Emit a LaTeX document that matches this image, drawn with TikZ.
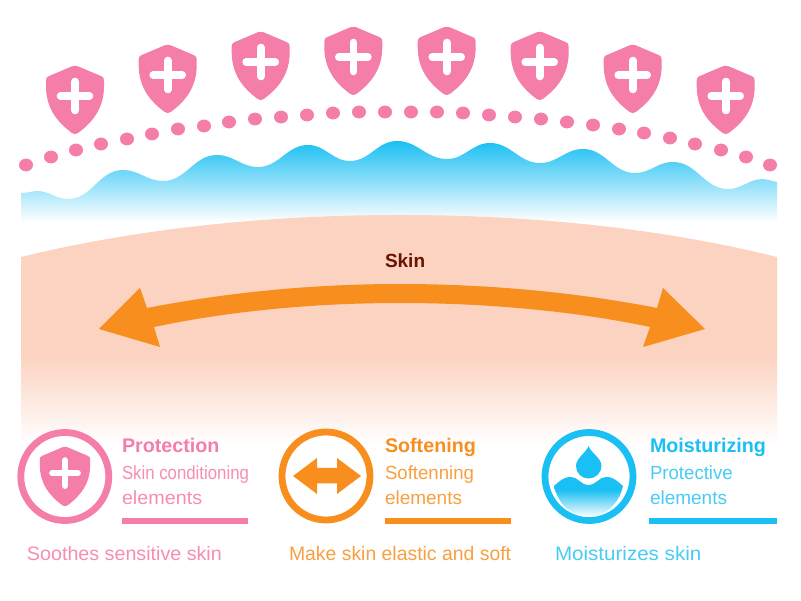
\documentclass[tikz,border=0pt]{standalone}
\usepackage{fontspec}
\setmainfont{Liberation Sans}
\definecolor{pinkc}{HTML}{F47DAA}
\definecolor{pinktext}{HTML}{F78DB4}
\definecolor{orangec}{HTML}{F78E1E}
\definecolor{bluec}{HTML}{1ABFF3}
\definecolor{skinc}{HTML}{FCD2C0}
\definecolor{skintext}{HTML}{6B1200}
\pgfdeclareverticalshading{bluefade}{100bp}{color(0bp)=(white); color(32bp)=(white); color(75bp)=(bluec); color(100bp)=(bluec)}
\pgfdeclareverticalshading{skinfade}{100bp}{color(0bp)=(white); color(25bp)=(white); color(75bp)=(skinc); color(100bp)=(skinc)}
\pgfdeclareverticalshading{waterfade}{100bp}{color(0bp)=(white); color(25bp)=(white); color(59bp)=(bluec); color(100bp)=(bluec)}
\tikzset{
  lab/.style={anchor=base west,inner sep=0pt,outer sep=0pt},
  headtxt/.style={lab,font=\fontsize{19.7}{19.7}\selectfont\bfseries},
  subtxt/.style={lab,font=\fontsize{19}{19}\selectfont},
  notetxt/.style={lab,font=\fontsize{19.5}{19.5}\selectfont},
  ringc/.style={circle,draw=#1,line width=6.8pt,fill=white,minimum size=88pt,inner sep=0pt},
}
\newcommand{\myshield}[3]{%
  \begin{scope}[shift={(#1,#2)},scale=#3]
    \fill[pinkc] (-3,.3) -- (-26.5,10.3) .. controls (-28.5,11.2) and (-29,12.5) .. (-29,15)
      -- (-29,20) .. controls (-29,42) and (-18,56) .. (-3,67)
      .. controls (-1,68.4) and (1,68.4) .. (3,67)
      .. controls (18,56) and (29,42) .. (29,20)
      -- (29,15) .. controls (29,12.5) and (28.5,11.2) .. (26.5,10.3)
      -- (3,.3) .. controls (1,-.3) and (-1,-.3) .. (-3,.3) -- cycle;
    \draw[white,line width={7.6pt*#3},line cap=round] (-14.5,30) -- (14.5,30) (0,15.5) -- (0,44.5);
  \end{scope}}
\begin{document}
\begin{tikzpicture}[x=1pt,y=-1pt]
\useasboundingbox (0,0) rectangle (801,601);
\fill[white] (0,0) rectangle (801,601);
% moisture wave
\shade[shading=bluefade]
  (21,193) to[out=-8,in=180,looseness=.6] (37,191) to[out=0,in=180] (68,199) to[out=0,in=180] (123,170)
  to[out=0,in=180] (163,181) to[out=0,in=180] (217,155) to[out=0,in=180] (258,167)
  to[out=0,in=180] (308,145) to[out=0,in=180] (350,161) to[out=0,in=180] (397,141)
  to[out=0,in=180] (447,159) to[out=0,in=180] (490,143) to[out=0,in=180] (540,163)
  to[out=0,in=180] (583,149) to[out=0,in=180] (635,173) to[out=0,in=180] (673,162)
  to[out=0,in=180] (728,189) to[out=0,in=180] (763,179) to[out=0,in=172,looseness=.6] (777,182)
  -- (777,235) -- (21,235) -- cycle;
% skin
\fill[skinc] (21,257) .. controls (140,228) and (270,215) .. (400,215)
  .. controls (530,215) and (660,228) .. (777,257) -- (777,356) -- (21,356) -- cycle;
\shade[shading=skinfade] (21,355) rectangle (777,444);
% double arrow
\fill[orangec] (99,329) -- (140,288) -- (147,308)
  .. controls (235,291) and (320,284) .. (400,284) .. controls (480,284) and (570,291) .. (657,308)
  -- (663,288) -- (705,329) -- (643,347) -- (650,327)
  .. controls (570,310) and (480,303) .. (400,303) .. controls (320,303) and (235,310) .. (154,327)
  -- (160,347) -- cycle;
\node[lab,font=\fontsize{19}{19}\selectfont\bfseries,text=skintext] (skin) at (385,268) {Skin};
% dots
\foreach \dx/\dy in {26/165,51/157,76/150,101/144,127/139,152/134,178/129,204/126,229/122,255/119,281/117,307/115,333/113,359/112,385/112,
  411/112,437/112,463/113,489/115,515/117,541/119,567/122,593/125,619/129,644/133,670/138,695/144,721/150,746/157,770/165}
  \fill[pinkc] (\dx,\dy) ellipse (7pt and 6.4pt);
% shields
\myshield{75}{66}{1}
\myshield{167.7}{45}{1}
\myshield{260.7}{32}{1}
\myshield{353.3}{27}{1}
\myshield{446.7}{27}{1}
\myshield{539.7}{32}{1}
\myshield{632.7}{45}{1}
\myshield{725.7}{66}{1}
% protection
\node[ringc=pinkc] (ringp) at (64.8,476.5) {};
\myshield{65}{447}{.87}
\node[headtxt,text=pinkc] (ph) at (122,453) {Protection};
\node[subtxt,text=pinktext] (p1) at (122,479) {\scalebox{.884}[1]{Skin conditioning}};
\node[subtxt,text=pinktext] (p2) at (122,504) {\scalebox{1.04}[1]{elements}};
\fill[pinkc] (122,518) rectangle (248,524);
\node[notetxt,text=pinktext] (pn) at (27,560) {\scalebox{1.01}[1]{Soothes sensitive skin}};
% softening
\node[ringc=orangec] (rings) at (326,476) {};
\fill[orangec] (293,476) -- (317,458) -- (317,468) -- (337,468) -- (337,458) -- (361,476)
  -- (337,494) -- (337,483.5) -- (317,483.5) -- (317,494) -- cycle;
\node[headtxt,text=orangec] (sh) at (385,453) {Softening};
\node[subtxt,text=orangec!85!white] (s1) at (385,479) {\scalebox{.98}[1]{Softenning}};
\node[subtxt,text=orangec!85!white] (s2) at (385,504) {elements};
\fill[orangec] (385,518) rectangle (511,524);
\node[notetxt,text=orangec!85!white] (sn) at (289,560) {\scalebox{.995}[1]{Make skin elastic and soft}};
% moisturizing
\node[ringc=bluec] (ringm) at (589,476.5) {};
\fill[bluec] (588.5,446) .. controls (586,453) and (576,458) .. (576,466)
  .. controls (576,473) and (581.5,478.5) .. (588.5,478.5)
  .. controls (595.5,478.5) and (601.5,473) .. (601.5,466)
  .. controls (601.5,458) and (591,453) .. (588.5,446) -- cycle;
\shade[shading=waterfade]
  (554,486) .. controls (560,481) and (563,477) .. (571,477)
  .. controls (578,477) and (581,485) .. (588.5,485)
  .. controls (596,485) and (599,477) .. (606,477)
  .. controls (614,477) and (617,481) .. (623,486)
  .. controls (619,504) and (605,517) .. (588.5,517)
  .. controls (572,517) and (558,504) .. (554,486) -- cycle;
\node[headtxt,text=bluec] (mh) at (650,453) {Moisturizing};
\node[subtxt,text=bluec!80!white] (m1) at (650,479) {\scalebox{.98}[1]{Protective}};
\node[subtxt,text=bluec!80!white] (m2) at (650,504) {elements};
\fill[bluec] (649,518) rectangle (777,524);
\node[notetxt,text=bluec!80!white] (mn) at (555,560) {\scalebox{1.055}[1]{Moisturizes skin}};
\end{tikzpicture}
\end{document}
